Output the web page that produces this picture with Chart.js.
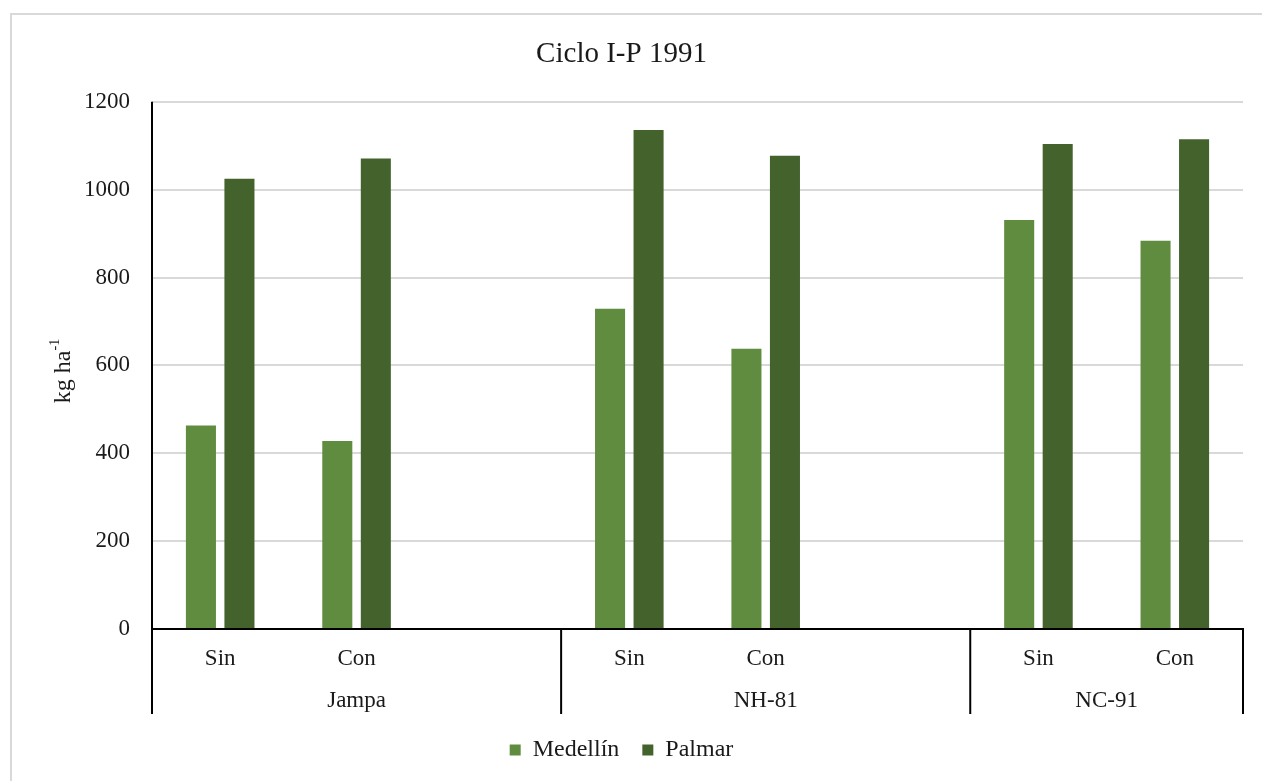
<!DOCTYPE html>
<html>
<head>
<meta charset="utf-8">
<title>Ciclo I-P 1991</title>
<script src="https://cdn.jsdelivr.net/npm/chart.js@4.4.1/dist/chart.umd.min.js"></script>
<style>
  html, body { margin: 0; padding: 0; background: #fff; }
  #wrap { position: relative; width: 1262px; height: 781px; }
</style>
</head>
<body>
<div id="wrap"><canvas id="grafico"></canvas></div>
<script>
// variedades y tratamientos (la ranura vacía separa cada grupo)
const tratamientos = ['Sin', 'Con', '', 'Sin', 'Con', '', 'Sin', 'Con'];
const variedades = ['Jampa', 'NH-81', 'NC-91'];
const gruposInicio = [0, 3, 6];          // primera ranura de cada variedad
const gruposFin = [2, 5, 7];             // última ranura de cada variedad

// rendimiento en kg/ha por localidad
const medellin = [463, 428, null, 729, 638, null, 931, 884];
const palmar = [1025, 1071, null, 1136, 1077, null, 1104, 1115];

const yTicks = [0, 200, 400, 600, 800, 1000, 1200];

const serif = "'Liberation Serif', 'DejaVu Serif', serif";
const texto = '#1a1a1a';

// marco gris, título del eje y, eje x en dos niveles y separadores
const ejeMultinivel = {
  id: 'ejeMultinivel',
  beforeDraw(chart) {
    const ctx = chart.ctx;
    ctx.save();
    ctx.strokeStyle = '#d9d9d9';
    ctx.lineWidth = 2;
    ctx.strokeRect(11, 14, 1300, 900);
    ctx.restore();
  },
  afterDraw(chart) {
    const ctx = chart.ctx;
    const x = chart.scales.x;
    const area = chart.chartArea;
    const paso = x.getPixelForTick(1) - x.getPixelForTick(0);
    const fondo = 714;
    ctx.save();
    ctx.strokeStyle = '#000';
    ctx.lineWidth = 2;
    // línea base
    ctx.beginPath();
    ctx.moveTo(area.left - 1, area.bottom);
    ctx.lineTo(area.right + 1, area.bottom);
    ctx.stroke();
    // eje vertical
    ctx.beginPath();
    ctx.moveTo(area.left, area.top);
    ctx.lineTo(area.left, fondo);
    ctx.stroke();
    // separadores entre variedades
    gruposFin.forEach(i => {
      const px = x.getPixelForTick(i) + paso / 2;
      ctx.beginPath();
      ctx.moveTo(px, area.bottom);
      ctx.lineTo(px, fondo);
      ctx.stroke();
    });
    // nombres de variedad
    ctx.fillStyle = texto;
    ctx.font = '23px ' + serif;
    ctx.textAlign = 'center';
    ctx.textBaseline = 'middle';
    variedades.forEach((v, k) => {
      const a = x.getPixelForTick(gruposInicio[k]) - paso / 2;
      const b = x.getPixelForTick(gruposFin[k]) + paso / 2;
      ctx.fillText(v, (a + b) / 2, 701);
    });

    // título del eje y con exponente
    ctx.translate(62, 371);
    ctx.rotate(-Math.PI / 2);
    ctx.font = '24px ' + serif;
    const base = 'kg ha';
    const wBase = ctx.measureText(base).width;
    ctx.font = '14px ' + serif;
    const exp = '-1';
    const wExp = ctx.measureText(exp).width;
    const inicio = -(wBase + wExp) / 2;
    ctx.textAlign = 'left';
    ctx.textBaseline = 'alphabetic';
    ctx.font = '24px ' + serif;
    ctx.fillText(base, inicio, 8);
    ctx.font = '14px ' + serif;
    ctx.fillText(exp, inicio + wBase, -3);
    ctx.restore();
  }
};

const ctx = document.getElementById('grafico').getContext('2d');
new Chart(ctx, {
  type: 'bar',
  data: {
    labels: tratamientos,
    datasets: [{
      label: 'Medellín',
      data: medellin,
      backgroundColor: '#608c3f',
      borderWidth: 0,
      categoryPercentage: 0.565,
      barPercentage: 0.78
    }, {
      label: 'Palmar',
      data: palmar,
      backgroundColor: '#43622c',
      borderWidth: 0,
      categoryPercentage: 0.565,
      barPercentage: 0.78
    }]
  },
  options: {
    responsive: true,
    maintainAspectRatio: false,
    animation: false,
    layout: { padding: { left: 0, right: 19, top: 0, bottom: 9 } },
    plugins: {
      title: {
        display: true,
        text: 'Ciclo I-P 1991',
        color: texto,
        font: { family: serif, size: 29, weight: 'normal' },
        padding: { top: 37, bottom: 30 }
      },
      legend: {
        position: 'bottom',
        labels: {
          color: texto,
          font: { family: serif, size: 24 },
          boxWidth: 11,
          boxHeight: 11,
          padding: 23
        }
      },
      tooltip: { enabled: false }
    },
    scales: {
      x: {
        grid: { display: false, drawTicks: false },
        border: { display: false },
        ticks: {
          color: texto,
          font: { family: serif, size: 23 },
          padding: 16,
          maxRotation: 0,
          autoSkip: false
        },
        afterFit(scale) { scale.height = 86; }
      },
      y: {
        min: 0,
        max: 1200,
        afterBuildTicks(scale) { scale.ticks = yTicks.map(v => ({ value: v })); },
        grid: { color: '#d9d9d9', lineWidth: 2, drawTicks: false },
        border: { display: false },
        ticks: {
          color: texto,
          font: { family: serif, size: 23 },
          padding: 22,
          callback: v => String(v)
        },
        afterFit(scale) { scale.width = 152; }
      }
    }
  },
  plugins: [ejeMultinivel]
});
</script>
</body>
</html>
